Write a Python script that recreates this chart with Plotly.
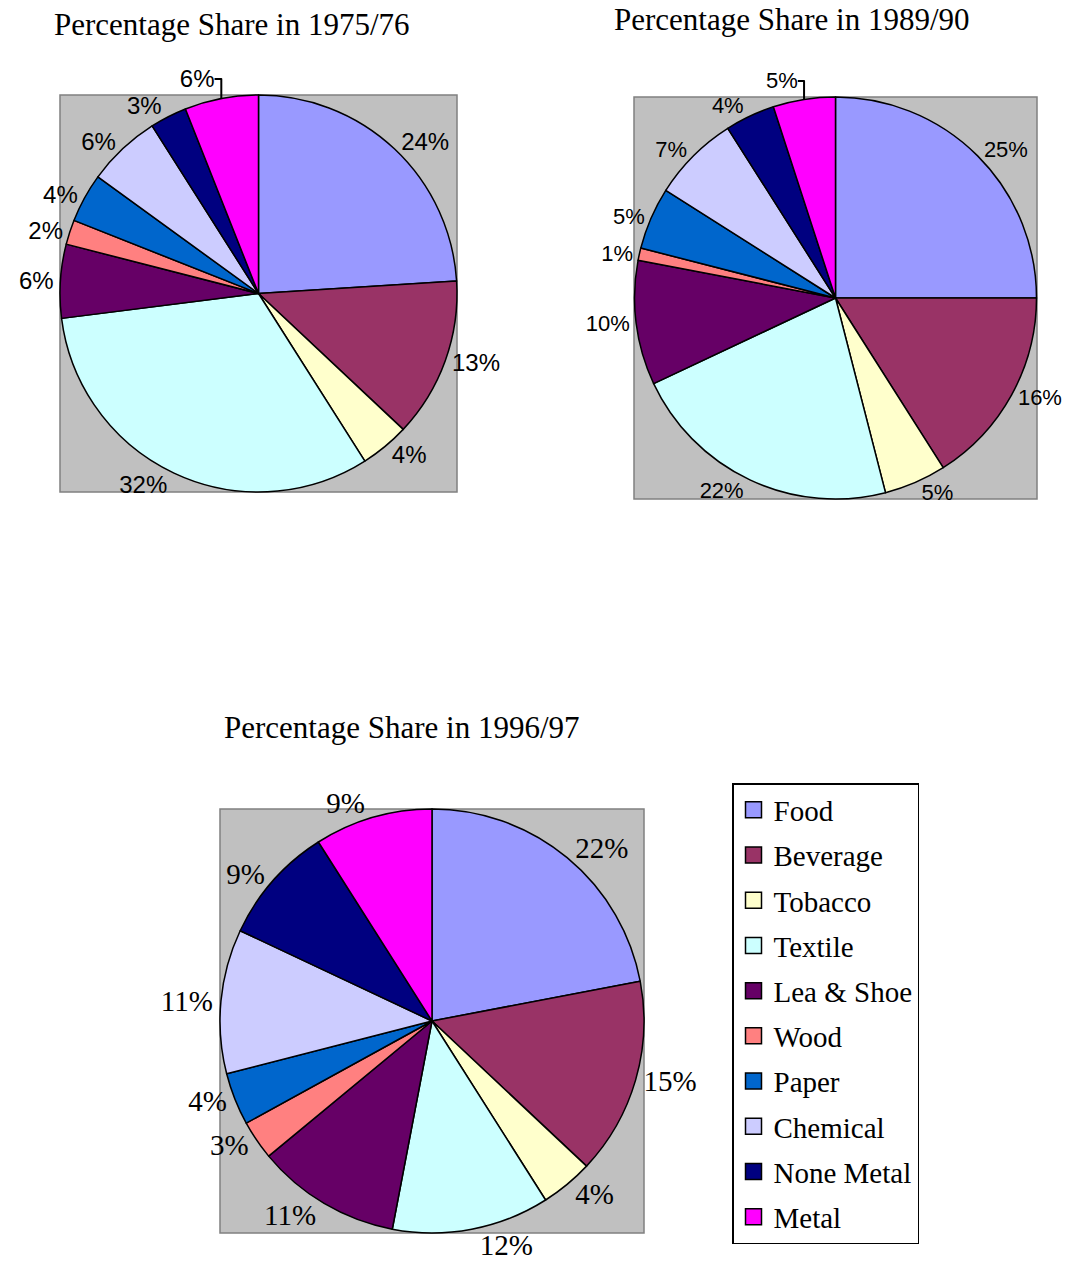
import plotly.graph_objects as go

# ---------------- data ----------------
categories = ["Food", "Beverage", "Tobacco", "Textile", "Lea & Shoe",
              "Wood", "Paper", "Chemical", "None Metal", "Metal"]
share_1975 = [24, 13, 4, 32, 6, 2, 4, 6, 3, 6]
share_1989 = [25, 16, 5, 22, 10, 1, 5, 7, 4, 5]
share_1996 = [22, 15, 4, 12, 11, 3, 4, 11, 9, 9]
titles = ["Percentage Share in 1975/76",
          "Percentage Share in 1989/90",
          "Percentage Share in 1996/97"]

# ---------------- styles / layout ----------------
colors = ["#9999FF", "#993366", "#FFFFCC", "#CCFFFF", "#660066",
          "#FF8080", "#0066CC", "#CCCCFF", "#000080", "#FF00FF"]
W, H = 1079, 1274
boxes = [(60, 95, 457, 492), (634, 97, 1037, 499), (220, 809, 644, 1233)]
title_pos = [(232, 25), (792, 19), (402, 727)]
label_fonts = [dict(family="Liberation Sans, Arial", size=24, color="black"),
               dict(family="Liberation Sans, Arial", size=22, color="black"),
               dict(family="Liberation Serif, Times New Roman", size=29, color="black")]
serif = "Liberation Serif, Times New Roman, serif"


def px_x(x):
    return x / W


def px_y(y):
    return 1 - y / H


fig = go.Figure()
series = [share_1975, share_1989, share_1996]
for i, vals in enumerate(series):
    x0, y0, x1, y1 = boxes[i]
    fig.add_trace(go.Pie(
        labels=categories,
        values=vals,
        sort=False,
        direction="clockwise",
        rotation=0,
        marker=dict(colors=colors, line=dict(color="black", width=1.5)),
        texttemplate="%{value}%",
        textposition="outside",
        outsidetextfont=label_fonts[i],
        domain=dict(x=[px_x(x0), px_x(x1)], y=[px_y(y1), px_y(y0)]),
        showlegend=False,
        hoverinfo="label+percent",
    ))

# legend entries (one per category)
for cat, col in zip(categories, colors):
    fig.add_trace(go.Scatter(
        x=[None], y=[None], mode="markers", name=cat, legendgroup=cat,
        marker=dict(symbol="square", size=18, color=col,
                    line=dict(color="black", width=1.5)),
        showlegend=True, hoverinfo="skip",
    ))

shapes = []
for (x0, y0, x1, y1) in boxes:
    shapes.append(dict(type="rect", xref="paper", yref="paper",
                       x0=px_x(x0), x1=px_x(x1), y0=px_y(y1), y1=px_y(y0),
                       fillcolor="#C0C0C0", line=dict(color="#808080", width=1.5),
                       layer="below"))

annotations = []
for t, (tx, ty) in zip(titles, title_pos):
    annotations.append(dict(text=t, x=px_x(tx), y=px_y(ty), xref="paper", yref="paper",
                            showarrow=False, xanchor="center", yanchor="middle",
                            font=dict(family=serif, size=31, color="black")))

fig.update_layout(
    width=W, height=H,
    margin=dict(l=0, r=0, t=0, b=0),
    paper_bgcolor="white",
    plot_bgcolor="rgba(0,0,0,0)",
    xaxis=dict(visible=False),
    yaxis=dict(visible=False),
    shapes=shapes,
    annotations=annotations,
    legend=dict(
        x=px_x(732), y=px_y(783), xanchor="left", yanchor="top",
        font=dict(family=serif, size=29, color="black"),
        bordercolor="black", borderwidth=1.5, bgcolor="white",
        traceorder="grouped", tracegroupgap=4.5, itemsizing="trace",
    ),
)

fig.write_html("out.html")
